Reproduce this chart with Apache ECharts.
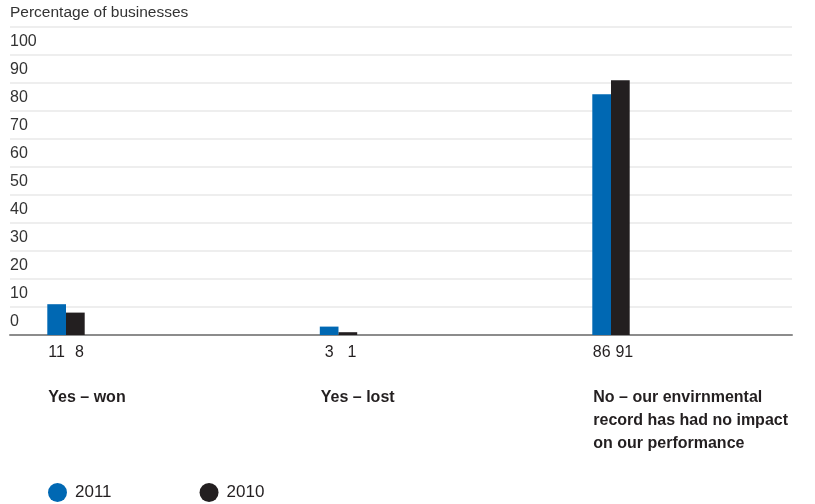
<!DOCTYPE html>
<html>
<head>
<meta charset="utf-8">
<title>Environmental record and business performance</title>
<script src="https://cdn.jsdelivr.net/npm/echarts@6/dist/echarts.min.js"></script>
<style>
  html, body { margin: 0; padding: 0; background: #ffffff; }
  #chart { width: 815px; height: 504px; }
</style>
</head>
<body>
<div id="chart"></div>
<script>
// Survey answers (x categories)
const categories = [
  'Yes – won',
  'Yes – lost',
  'No – our envirnmental\nrecord has had no impact\non our performance'
];
// Percentage of businesses per answer
const values2011 = [11, 3, 86];
const values2010 = [8, 1, 91];
// Series names shown in the legend
const seriesNames = ['2011', '2010'];
// Value axis range and step
const yMin = 0;
const yMax = 110;
const yStep = 10;

const BLUE = '#0068b3';
const DARK = '#231f20';
const SANS = '"Liberation Sans", Arial, sans-serif';

const GRID = { left: 10, right: 23, top: 27, bottom: 169 };

// Answers sit at x = 0, 1, 2 on a hidden numeric axis; the range leaves
// wide empty space to the right of each bar pair.
const xSpan = 2.86972;
const barXMin = -0.2055;
const labelXMin = -0.14055;
const positions = categories.map((_, i) => i);

const chart = echarts.init(document.getElementById('chart'), null, { renderer: 'canvas' });

const barLabel = (dx) => ({
  show: true,
  position: 'bottom',
  distance: 10,
  offset: [dx, 0],
  fontFamily: SANS,
  fontSize: 16,
  color: DARK
});

chart.setOption({
  animation: false,
  backgroundColor: '#ffffff',
  title: {
    text: 'Percentage of businesses',
    left: 10,
    top: 5,
    padding: 0,
    textStyle: { fontFamily: SANS, fontSize: 15.5, fontWeight: 'normal', color: '#333333' }
  },
  legend: {
    data: seriesNames,
    left: 48,
    top: 483,
    padding: 0,
    icon: 'circle',
    itemWidth: 19,
    itemHeight: 19,
    itemGap: 88,
    selectedMode: false,
    textStyle: { fontFamily: SANS, fontSize: 17, color: DARK, padding: [0, 0, 0, 3] }
  },
  grid: [
    Object.assign({}, GRID),
    Object.assign({}, GRID),
    Object.assign({}, GRID)
  ],
  xAxis: [
    {
      // baseline of the plot
      gridIndex: 0,
      type: 'category',
      data: categories,
      axisLine: { show: true, lineStyle: { color: '#8c8c8c', width: 2 } },
      axisTick: { show: false },
      axisLabel: { show: false },
      splitLine: { show: false }
    },
    {
      // positions of the bar pairs
      gridIndex: 1,
      type: 'value',
      min: barXMin,
      max: barXMin + xSpan,
      show: false
    },
    {
      // answer labels, starting at the left edge of each bar pair
      gridIndex: 2,
      type: 'value',
      min: labelXMin,
      max: labelXMin + xSpan,
      axisLine: { show: false },
      axisTick: { show: false },
      splitLine: { show: false },
      axisLabel: {
        show: true,
        customValues: positions,
        align: 'left',
        margin: 51,
        fontFamily: SANS,
        fontSize: 16,
        fontWeight: 'bold',
        lineHeight: 23,
        color: DARK,
        formatter: (v) => categories[Math.round(v)] || ''
      }
    }
  ],
  yAxis: [
    {
      gridIndex: 0,
      type: 'value',
      min: yMin,
      max: yMax,
      interval: yStep,
      axisLine: { show: false },
      axisTick: { show: false },
      splitLine: { show: true, lineStyle: { color: '#e8e8e8', width: 1.5 } },
      axisLabel: {
        show: true,
        inside: true,
        margin: 0,
        align: 'left',
        verticalAlign: 'bottom',
        padding: [0, 0, 5, 0],
        fontFamily: SANS,
        fontSize: 16,
        color: '#333333',
        formatter: (v) => (v >= yMax ? '' : String(v))
      }
    },
    { gridIndex: 1, type: 'value', min: yMin, max: yMax, interval: yStep, show: false },
    { gridIndex: 2, type: 'value', min: yMin, max: yMax, interval: yStep, show: false }
  ],
  series: [
    {
      name: seriesNames[0],
      type: 'bar',
      xAxisIndex: 1,
      yAxisIndex: 1,
      data: positions.map((x, i) => [x, values2011[i]]),
      barWidth: 18.7,
      barGap: '0%',
      itemStyle: { color: BLUE },
      label: Object.assign(barLabel(0), { formatter: (p) => String(p.value[1]) })
    },
    {
      name: seriesNames[1],
      type: 'bar',
      xAxisIndex: 1,
      yAxisIndex: 1,
      data: positions.map((x, i) => [x, values2010[i]]),
      barWidth: 18.7,
      barGap: '0%',
      itemStyle: { color: DARK },
      label: Object.assign(barLabel(4), { formatter: (p) => String(p.value[1]) })
    }
  ]
});
</script>
</body>
</html>
